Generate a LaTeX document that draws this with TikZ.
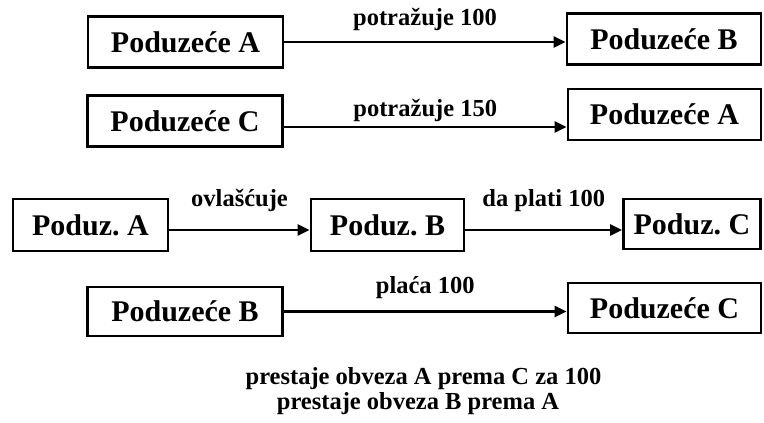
\documentclass[tikz,border=0pt]{standalone}
\usepackage{fontspec}
\setmainfont{Liberation Serif}
\usetikzlibrary{arrows.meta}
\frenchspacing

\begin{document}
\begin{tikzpicture}[x=1pt,y=1pt]
    \tikzstyle{firm}=[draw,line width=2.8pt,inner sep=0pt,minimum height=51pt,font=\fontsize{30}{36}\selectfont\bfseries]
    \tikzstyle{flow}=[-{Triangle[length=12pt,width=11pt]},line width=2.8pt]
    \tikzstyle{lbl}=[inner sep=0pt,font=\fontsize{24.5}{28}\selectfont\bfseries]
    \useasboundingbox (0,0) rectangle (764,423);
    \node[firm,minimum width=195pt] (pA1) at (185.5,381) {Poduzeće A};
    \node[firm,minimum width=194pt] (pB1) at (664,384) {Poduzeće B};
    \node[firm,minimum width=195pt] (pC2) at (185,302) {Poduzeće C};
    \node[firm,minimum width=193pt] (pA2) at (664.5,308.5) {Poduzeće A};
    \node[firm,minimum width=155pt,minimum height=52pt] (pA3) at (90.5,198) {Poduz. A};
    \node[firm,minimum width=153pt,minimum height=52pt] (pB3) at (387.5,198) {Poduz. B};
    \node[firm,minimum width=137pt,minimum height=50pt] (pC3) at (692,199) {Poduz. C};
    \node[firm,minimum width=195pt,minimum height=49pt] (pB4) at (185,111.5) {Poduzeće B};
    \node[firm,minimum width=193pt,minimum height=50pt] (pC4) at (664.5,115) {Poduzeće C};
    \draw[flow] (pA1.east) -- node[lbl,above=10pt] {potražuje 100} (pA1.east -| pB1.west);
    \draw[flow] ([yshift=-6pt]pC2.east) -- node[lbl,above=4pt] {potražuje 150} ([yshift=-6pt]pC2.east -| pA2.west);
    \draw[flow] ([yshift=-5pt]pA3.east) -- node[lbl,above=17pt] {ovlašćuje} ([yshift=-5pt]pA3.east -| pB3.west);
    \draw[flow] ([yshift=-5pt]pB3.east) -- node[lbl,above=17pt] {da plati 100} ([yshift=-5pt]pB3.east -| pC3.west);
    \draw[flow] (pB4.east) -- node[lbl,above=11pt] {plaća 100} (pB4.east -| pC4.west);
    \node[lbl,anchor=base] (note1) at (423.5,38) {prestaje obveza A prema C za 100};
    \node[lbl,anchor=base] (note2) at (418,13) {prestaje obveza B prema A};
\end{tikzpicture}
\end{document}
